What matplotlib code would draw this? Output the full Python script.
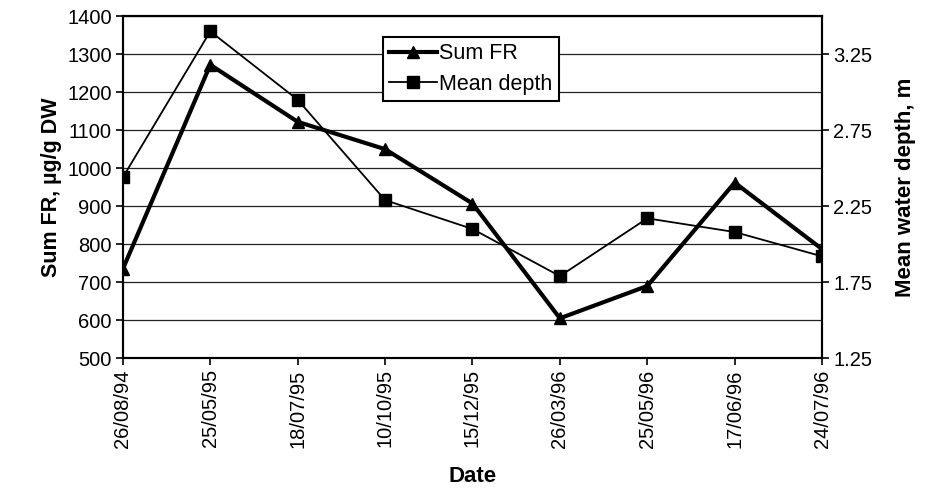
import numpy as np
import matplotlib
matplotlib.use('Agg')
import matplotlib.pyplot as plt

plt.rcParams['font.family'] = ['Liberation Sans', 'DejaVu Sans']

#region Data
dates = ['26/08/94', '25/05/95', '18/07/95', '10/10/95', '15/12/95',
         '26/03/96', '25/05/96', '17/06/96', '24/07/96']
sum_fr = [735, 1272, 1122, 1050, 907, 605, 690, 962, 787]          # ug/g DW
mean_depth = [2.44, 3.40, 2.95, 2.29, 2.10, 1.79, 2.17, 2.08, 1.92]  # m
#endregion

x = np.arange(len(dates))

fig = plt.figure(figsize=(9.31, 4.9), dpi=100)
ax1 = fig.add_axes([0.132, 0.269, 0.751, 0.698])
ax2 = ax1.twinx()

#region Lines
l1, = ax1.plot(x, sum_fr, '-^', color='black', lw=3.0, ms=9, label='Sum FR')
l2, = ax2.plot(x, mean_depth, '-s', color='black', lw=1.3, ms=9, label='Mean depth')
#endregion

#region Axes
ax1.set_xlim(0, len(dates) - 1)
ax1.set_ylim(500, 1400)
ax1.set_yticks(np.arange(500, 1401, 100))
ax1.set_xticks(x)
ax1.set_xticklabels(dates, rotation=90)
ax1.grid(axis='y', color='#222222', lw=0.9)
ax1.set_axisbelow(True)

ax2.set_ylim(1.25, 3.5)
ax2.set_yticks([1.25, 1.75, 2.25, 2.75, 3.25])
ax2.set_yticklabels(['1.25', '1.75', '2.25', '2.75', '3.25'])

for ax in (ax1, ax2):
    ax.tick_params(labelsize=14.5, direction='out', length=5, width=1.2,
                   color='black', pad=3)
    for s in ax.spines.values():
        s.set_linewidth(1.5)
        s.set_color('black')

ax1.set_xlabel('Date', fontsize=16, fontweight='bold', labelpad=13)
ax1.set_ylabel('Sum FR, µg/g DW', fontsize=15.5, fontweight='bold', labelpad=4)
ax2.set_ylabel('Mean water depth, m', fontsize=16, fontweight='bold', labelpad=16)

leg = ax2.legend(handles=[l1, l2], loc='upper left', bbox_to_anchor=(0.372, 0.94),
                 fontsize=15.5, frameon=True, fancybox=False, framealpha=1,
                 edgecolor='black', handlelength=2.2, handletextpad=0.1,
                 borderpad=0.3, labelspacing=0.45, borderaxespad=0)
leg.get_frame().set_linewidth(1.5)
#endregion

fig.savefig('out.png', dpi=100)
